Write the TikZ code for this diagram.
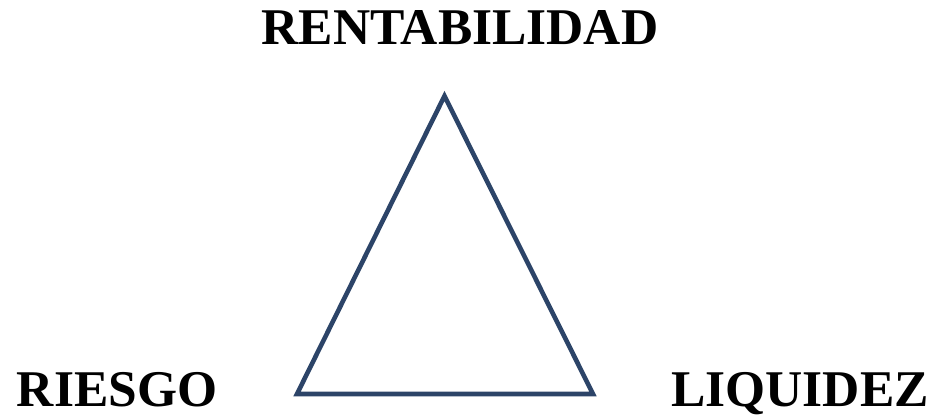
\documentclass[tikz,border=0pt]{standalone}
\usepackage{fontspec}
\setmainfont{Liberation Serif}
\definecolor{navy}{RGB}{44,68,104}
\begin{document}
\begin{tikzpicture}[x=1pt,y=1pt,
  lbl/.style={font=\fontsize{51.5}{60}\selectfont\bfseries, inner sep=0pt, anchor=base},
  tri/.style={draw=navy, line width=4.6pt, line join=miter}]
\useasboundingbox (0,0) rectangle (938,416);
\coordinate (apex) at (444.5,320);
\coordinate (bl) at (297,22);
\coordinate (br) at (593,22);
\draw[tri] (apex) -- (bl) -- (br) -- cycle;
\node[lbl] (top) at (460,371) {RENTABILIDAD};
\node[lbl] (left) at (117,10) {RIESGO};
\node[lbl] (right) at (800,10) {LIQUIDEZ};
\end{tikzpicture}
\end{document}
